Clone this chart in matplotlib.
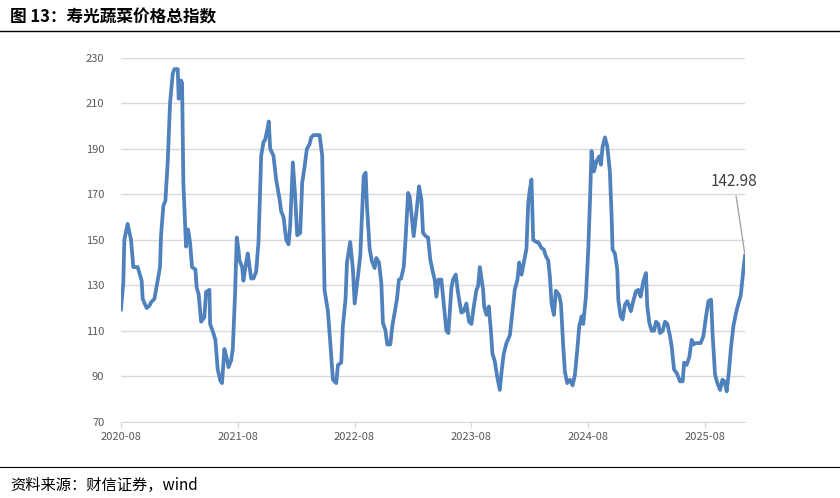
import matplotlib
matplotlib.use("Agg")
import matplotlib.pyplot as plt
import matplotlib.dates as mdates
import numpy as np
import pandas as pd

plt.rcParams["font.family"] = ["Noto Sans CJK SC", "DejaVu Sans"]

# time in years since 2020-08-01
years = [
    0.00, 0.02, 0.029, 0.057, 0.086, 0.106, 0.143, 0.177, 0.186, 0.22, 0.243, 0.257, 0.286, 0.314,
    0.334, 0.343, 0.363, 0.38, 0.40, 0.42, 0.443, 0.457, 0.486, 0.494, 0.514, 0.523, 0.534, 0.557,
    0.574, 0.591, 0.608, 0.637, 0.648, 0.665, 0.686, 0.714, 0.728, 0.757, 0.763, 0.791, 0.808, 0.828,
    0.851, 0.865, 0.885, 0.905, 0.92, 0.943, 0.957, 0.977, 0.991, 1.005, 1.014, 1.037, 1.048, 1.071,
    1.085, 1.114, 1.134, 1.157, 1.177, 1.20, 1.22, 1.234, 1.251, 1.265, 1.277, 1.305, 1.328, 1.357,
    1.371, 1.391, 1.414, 1.434, 1.448, 1.471, 1.491, 1.508, 1.534, 1.551, 1.571, 1.591, 1.614, 1.628,
    1.648, 1.685,
    1.70, 1.722, 1.734, 1.742, 1.771, 1.791, 1.814, 1.842, 1.857, 1.885, 1.899, 1.922, 1.934, 1.962,
    1.985, 2.0, 2.028, 2.048, 2.065, 2.077, 2.094, 2.105, 2.128, 2.148, 2.171, 2.185, 2.208, 2.228,
    2.242, 2.262, 2.279, 2.305, 2.322, 2.342, 2.362, 2.379, 2.397, 2.42, 2.437, 2.457, 2.471, 2.494,
    2.505, 2.528, 2.551, 2.571, 2.585, 2.608, 2.628, 2.648, 2.671, 2.685, 2.699, 2.719, 2.742, 2.762,
    2.785, 2.802, 2.828, 2.842, 2.865, 2.885, 2.913, 2.933, 2.956, 2.979, 2.999, 3.019, 3.042, 3.056,
    3.071, 3.099, 3.108, 3.128, 3.148, 3.165, 3.179, 3.199, 3.219, 3.242, 3.259, 3.276, 3.299, 3.328,
    3.351, 3.37, 3.393, 3.408, 3.428, 3.448, 3.47, 3.485, 3.499, 3.513, 3.528, 3.556,
    3.570, 3.599, 3.619, 3.636, 3.656, 3.67, 3.685, 3.705, 3.722, 3.75, 3.765, 3.785, 3.799, 3.819,
    3.842, 3.865, 3.885, 3.905, 3.922, 3.942, 3.956, 3.979, 3.999, 4.013, 4.027, 4.047, 4.07, 4.093,
    4.107, 4.122, 4.142, 4.162, 4.184, 4.199, 4.207, 4.227, 4.247, 4.256, 4.276, 4.293, 4.313, 4.333,
    4.35, 4.364, 4.384, 4.407, 4.427, 4.447, 4.47, 4.493, 4.504, 4.522, 4.542, 4.562, 4.579, 4.599,
    4.613, 4.636, 4.656, 4.676, 4.699, 4.713, 4.733, 4.756, 4.784, 4.807, 4.819, 4.841, 4.864, 4.884,
    4.899, 4.919, 4.941, 4.961, 4.984, 5.007, 5.027, 5.05, 5.064, 5.084, 5.104, 5.127, 5.147, 5.164,
    5.184, 5.204, 5.221, 5.241, 5.264, 5.284, 5.304, 5.327, 5.341,
]
index_values = [
    119.3, 131, 150, 157, 150, 138, 138, 132, 124, 120, 121, 122.5, 124, 132,
    138, 152, 165, 167, 184, 210, 223, 225, 225, 212, 220, 219, 175, 147,
    154.5, 149, 138, 137, 129, 126, 114, 116, 127, 128, 113, 109, 106, 93,
    88, 87, 102, 98, 94, 97, 102, 127, 151, 146, 141, 138, 132, 140,
    144, 133, 133, 136, 149, 187, 193, 194, 198, 202, 190, 187, 176.5, 168,
    162.5, 160, 150, 148, 156, 184, 169, 152, 153, 175, 182, 190, 192, 195,
    196, 196,
    196, 187, 153, 128, 118.6, 105, 88.5, 87, 95, 96, 112, 124, 140, 149,
    137, 122, 134, 143, 163, 178, 179.5, 165, 146, 140.5, 137.6, 142, 140, 131,
    113.4, 110.5, 104, 104, 112, 118, 124, 132.5, 133, 138, 151.6, 170.6, 169, 157,
    151.6, 162, 173.5, 167.7, 153, 151.6, 151, 141, 135.4, 132.5, 125, 132.5, 132.5, 122,
    110, 109, 129, 132.5, 134.7, 126.6, 118, 118.6, 122, 114, 113, 120.5, 128, 129.6,
    138, 128, 120.7, 117, 120.7, 110.5, 100, 96.6, 90, 84, 93, 100, 104.6, 108,
    119, 128, 132.5, 140, 134.7, 140, 146, 166, 172, 176.5, 150, 149,
    149, 146.4, 145.7, 142.8, 141, 134, 122, 117, 127.6, 125.6, 122, 103, 92, 87,
    88.5, 86, 90.7, 101.7, 112, 116.4, 113, 125, 145.7, 166, 189, 180, 184.5, 186.7,
    183, 191, 195, 191, 180, 160, 145.7, 144, 137, 123.7, 116.4, 115, 121.5, 123,
    120.7, 118.6, 123, 127.3, 128, 125, 131.8, 135.4, 120.7, 113.4, 110, 110, 114, 113,
    109, 110, 114, 113, 107.6, 103, 93, 91.4, 87.8, 87.8, 96, 95, 98.5, 106,
    104, 104.6, 104.6, 104.6, 107.6, 116.4, 123, 123.7, 107.6, 90.7, 87, 84, 88.5, 87.8,
    83.4, 92.9, 103, 112, 118, 122, 125.6, 137, 142.98,
]
y_ticks = [70, 90, 110, 130, 150, 170, 190, 210, 230]
x_tick_labels = ["2020-08", "2021-08", "2022-08", "2023-08", "2024-08", "2025-08"]

start = pd.Timestamp("2020-08-01")
dates = start + pd.to_timedelta(np.array(years) * 365.25, unit="D")

fig = plt.figure(figsize=(8.4, 4.98), dpi=100)
ax = fig.add_axes([0.144, 0.153, 0.743, 0.731])

ax.plot(dates, index_values, color="#4f81bd", lw=2.7, solid_joinstyle="round")

ax.set_ylim(70, 230)
ax.set_yticks(y_ticks)
ax.set_xlim(start, dates[-1])
tick_dates = [pd.Timestamp(s + "-01") for s in x_tick_labels]
ax.set_xticks(tick_dates)
ax.set_xticklabels(x_tick_labels)

ax.grid(axis="y", color="#d9d9d9", lw=1)
ax.set_axisbelow(True)
for side in ["left", "right", "top"]:
    ax.spines[side].set_visible(False)
ax.spines["bottom"].set_color("#d9d9d9")
ax.tick_params(axis="y", length=0, labelsize=8, labelcolor="#595959", pad=12)
ax.tick_params(axis="x", length=4, color="#d9d9d9", labelsize=8, labelcolor="#595959", pad=3)

ax.annotate(f"{index_values[-1]:.2f}", xy=(dates[-1], index_values[-1]),
            xytext=(-8, 47), textcoords="offset points", ha="center", va="bottom",
            fontsize=11, color="#404040",
            arrowprops=dict(arrowstyle="-", color="#a6a6a6", lw=1))

fig.text(0.012, 0.965, "图 13：寿光蔬菜价格总指数", fontsize=12, fontweight="bold", va="center")
fig.add_artist(plt.Line2D([0.0, 1.0], [0.938, 0.938], color="black", lw=1))
fig.add_artist(plt.Line2D([0.0, 1.0], [0.062, 0.062], color="black", lw=0.8))
fig.text(0.012, 0.025, "资料来源：财信证券，wind", fontsize=11, style="italic", va="center")

fig.savefig("out.png", dpi=100)
